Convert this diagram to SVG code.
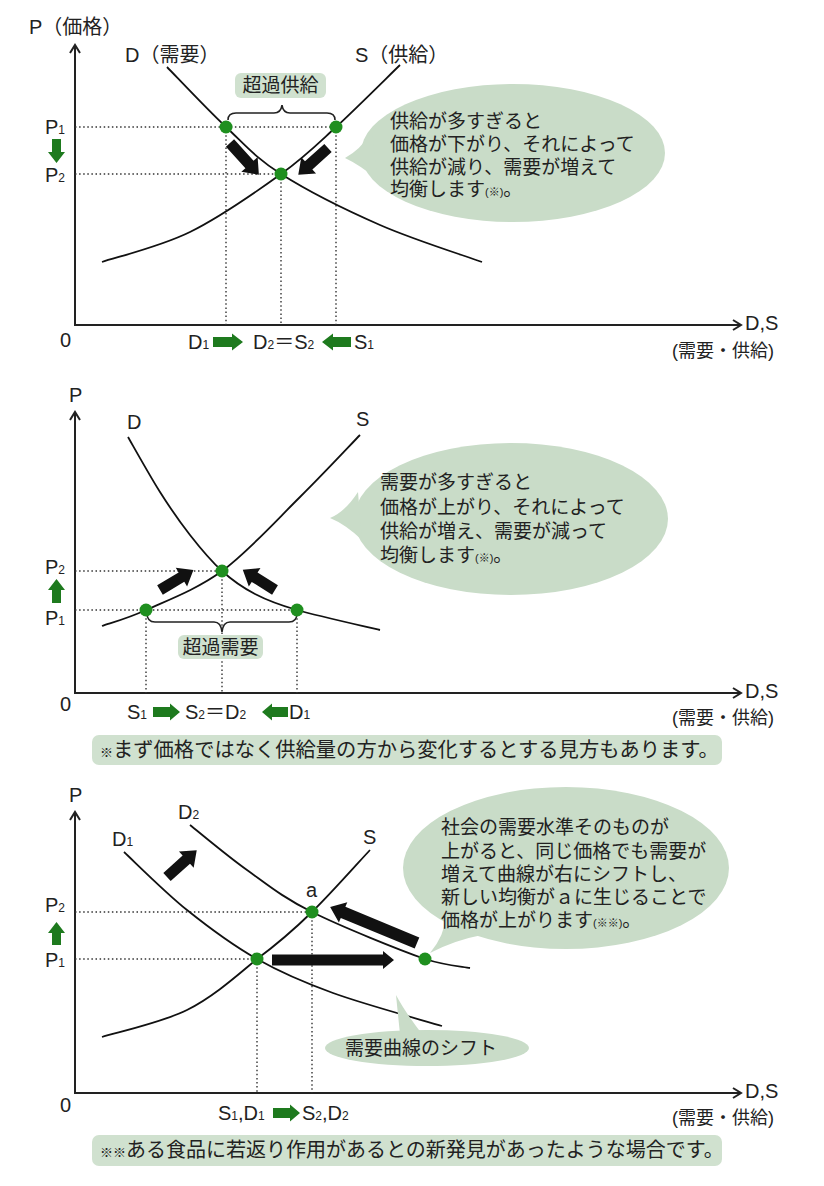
<svg xmlns="http://www.w3.org/2000/svg" width="824" height="1186" viewBox="0 0 824 1186">
<style>
text{font-family:"Liberation Sans","Noto Sans CJK JP",sans-serif;fill:#222;}
.t20{font-size:20px;}
.t19{font-size:19px;}
.t18{font-size:18px;}
.sub{font-size:12px;}
.note{font-size:11px;}
.axis{stroke:#222;stroke-width:2;fill:none;}
.curve{stroke:#111;stroke-width:1.8;fill:none;}
.dot{stroke:#333;stroke-width:1.4;stroke-dasharray:1.5 2.6;fill:none;}
.pt{fill:#1f8f1f;}
.blk{fill:#111;}
.grn{fill:#1e7a1e;}
.bub{fill:#c9dcc8;}
.lbl{fill:#d0e1cf;}
.brace{stroke:#222;stroke-width:1.6;fill:none;}
</style>
<rect width="824" height="1186" fill="#fff"/>

<!-- Panel 1 -->
<g id="panel1-axes">
<path class="axis" d="M75,45 L75,325 L741,325"/>
<path class="axis" d="M70,53 L75,45 L80,53"/>
<path class="axis" d="M733,320 L741,325 L733,330"/>
<text class="t20" x="29" y="34">P（価格）</text>
<text class="t20" x="60" y="347">0</text>
<text class="t20" x="745" y="330">D,S</text>
<text class="t18" x="672" y="357">(需要・供給)</text>
</g>
<g id="panel1-connectors">
<path class="dot" d="M75,127 L336,127 M75,174 L281,174 M226,127 L226,325 M281,174 L281,325 M336,127 L336,325"/>
<path class="curve" d="M167,67 C176.8,77 207,109.2 226,127 C245,144.8 255.3,157.7 281,174 C306.7,190.3 346.5,210.3 380,225 C413.5,239.7 465,255.8 482,262"/>
<path class="curve" d="M102,262 C116.7,257 160.2,246.7 190,232 C219.8,217.3 256.7,191.5 281,174 C305.3,156.5 316.2,145.2 336,127 C355.8,108.8 389.3,75.3 400,65"/>
<path class="brace" d="M228,120 Q228,113 236,113 L274,113 Q281,113 282,105 Q283,113 290,113 L327,113 Q335,113 335,120"/>
<polygon class="blk" transform="translate(230,143) rotate(47.8)" points="0,-5.5 29,-5.5 29,-11 43,0 29,11 29,5.5 0,5.5"/>
<polygon class="blk" transform="translate(328,148) rotate(138)" points="0,-5.5 26,-5.5 26,-11 40,0 26,11 26,5.5 0,5.5"/>
<polygon class="grn" points="52,139 61,139 61,152 65,152 56.5,163 48,152 52,152"/>
<polygon class="grn" points="213,337 232,337 232,333.5 243,342 232,350.5 232,347 213,347"/>
<polygon class="grn" points="351,337 333,337 333,333.5 322,342 333,350.5 333,347 351,347"/>
</g>
<g id="panel1-nodes">
<circle class="pt" cx="226" cy="127" r="6.5"/>
<circle class="pt" cx="336" cy="127" r="6.5"/>
<circle class="pt" cx="281" cy="174" r="6.5"/>
<text class="t20" x="125" y="62">D（需要）</text>
<text class="t20" x="355" y="62">S（供給）</text>
<text class="t20" x="45" y="134">P<tspan class="sub">1</tspan></text>
<text class="t20" x="45" y="182">P<tspan class="sub">2</tspan></text>
<text class="t20" x="188" y="349">D<tspan class="sub">1</tspan></text>
<text class="t20" x="253" y="349">D<tspan class="sub">2</tspan>＝S<tspan class="sub">2</tspan></text>
<text class="t20" x="354" y="349">S<tspan class="sub">1</tspan></text>
</g>
<g id="label-excess-supply">
<rect class="lbl" x="235" y="73" width="91" height="25" rx="6"/>
<text class="t19" x="280.5" y="92" text-anchor="middle">超過供給</text>
</g>
<g id="bubble1">
<ellipse class="bub" cx="513" cy="153" rx="152" ry="69"/>
<path class="bub" d="M345,158 Q360,150 372,132 L378,180 Q360,165 345,158 Z"/>
<text class="t19" x="390" y="128">供給が多すぎると<tspan x="390" dy="23">価格が下がり、それによって</tspan><tspan x="390" dy="22.5">供給が減り、需要が増えて</tspan><tspan x="390" dy="22.5">均衡します</tspan><tspan class="note">(※)</tspan><tspan>。</tspan></text>
</g>

<!-- Panel 2 -->
<g id="panel2-axes">
<path class="axis" d="M75,412 L75,693 L741,693"/>
<path class="axis" d="M70,420 L75,412 L80,420"/>
<path class="axis" d="M733,688 L741,693 L733,698"/>
<text class="t20" x="69" y="402">P</text>
<text class="t20" x="60" y="711">0</text>
<text class="t20" x="745" y="698">D,S</text>
<text class="t18" x="672" y="724">(需要・供給)</text>
</g>
<g id="panel2-connectors">
<path class="dot" d="M75,571 L222,571 M75,610 L297,610 M146,610 L146,693 M222,571 L222,693 M297,610 L297,693"/>
<path class="curve" d="M128,437 C133.3,446.2 149.7,475.7 160,492 C170.3,508.3 179.7,521.8 190,535 C200.3,548.2 211.2,561.2 222,571 C232.8,580.8 242.5,587.5 255,594 C267.5,600.5 276.2,604 297,610 C317.8,616 366.2,626.7 380,630"/>
<path class="curve" d="M102,626 C109.3,623.3 126,619.2 146,610 C166,600.8 196.3,589.8 222,571 C247.7,552.2 277,519.7 300,497 C323,474.3 350,445.3 360,435"/>
<path class="brace" d="M147,613 Q147,622 155,622 L214,622 Q221,622 222,632 Q223,622 230,622 L289,622 Q297,622 297,613"/>
<polygon class="blk" transform="translate(160,590) rotate(-31)" points="0,-5.5 25,-5.5 25,-11 39,0 25,11 25,5.5 0,5.5"/>
<polygon class="blk" transform="translate(275,590) rotate(-148)" points="0,-5.5 24,-5.5 24,-11 38,0 24,11 24,5.5 0,5.5"/>
<polygon class="grn" points="56.5,579 65,590 61,590 61,603 52,603 52,590 48,590"/>
<polygon class="grn" points="153,707 170,707 170,703.5 180,712 170,720.5 170,717 153,717"/>
<polygon class="grn" points="288,707 272,707 272,703.5 262,712 272,720.5 272,717 288,717"/>
</g>
<g id="panel2-nodes">
<circle class="pt" cx="146" cy="610" r="6.5"/>
<circle class="pt" cx="222" cy="571" r="6.5"/>
<circle class="pt" cx="297" cy="610" r="6.5"/>
<text class="t20" x="127" y="429">D</text>
<text class="t20" x="356" y="426">S</text>
<text class="t20" x="45" y="574">P<tspan class="sub">2</tspan></text>
<text class="t20" x="45" y="625">P<tspan class="sub">1</tspan></text>
<text class="t20" x="127" y="719">S<tspan class="sub">1</tspan></text>
<text class="t20" x="185" y="719">S<tspan class="sub">2</tspan>＝D<tspan class="sub">2</tspan></text>
<text class="t20" x="289" y="719">D<tspan class="sub">1</tspan></text>
</g>
<g id="label-excess-demand">
<rect class="lbl" x="178" y="635" width="85" height="24" rx="6"/>
<text class="t19" x="220.5" y="654" text-anchor="middle">超過需要</text>
</g>
<g id="bubble2">
<ellipse class="bub" cx="511" cy="519" rx="157" ry="76"/>
<path class="bub" d="M330,518 Q345,512 358,492 L362,540 Q345,524 330,518 Z"/>
<text class="t19" x="380" y="489">需要が多すぎると<tspan x="380" dy="25">価格が上がり、それによって</tspan><tspan x="380" dy="24">供給が増え、需要が減って</tspan><tspan x="380" dy="24">均衡します</tspan><tspan class="note">(※)</tspan><tspan>。</tspan></text>
</g>
<g id="footnote1">
<rect class="lbl" x="92" y="735" width="630" height="30" rx="7"/>
<text x="100" y="757" font-size="20.3"><tspan font-size="13">※</tspan>まず価格ではなく供給量の方から変化するとする見方もあります。</text>
</g>

<!-- Panel 3 -->
<g id="panel3-axes">
<path class="axis" d="M75,812 L75,1093 L741,1093"/>
<path class="axis" d="M70,820 L75,812 L80,820"/>
<path class="axis" d="M733,1088 L741,1093 L733,1098"/>
<text class="t20" x="69" y="802">P</text>
<text class="t20" x="60" y="1112">0</text>
<text class="t20" x="745" y="1098">D,S</text>
<text class="t18" x="672" y="1124">(需要・供給)</text>
</g>
<g id="panel3-connectors">
<path class="dot" d="M75,912 L312,912 M75,959 L257,959 M257,959 L257,1093 M312,912 L312,1093"/>
<path class="curve" d="M124,852 C134.5,861.7 164.8,892.2 187,910 C209.2,927.8 232.7,945.2 257,959 C281.3,972.8 302.2,981.8 333,993 C363.8,1004.2 423.8,1020.5 442,1026"/>
<path class="curve" d="M190,825 C199.5,832.5 226.7,855.5 247,870 C267.3,884.5 282.3,897.2 312,912 C341.7,926.8 398.7,949.7 425,959 C445,965.5 462.5,966.5 470,968"/>
<path class="curve" d="M102,1037 C116.2,1032.5 161.2,1022.8 187,1010 C212.8,997.2 236.2,976.3 257,959 C277.8,943.7 293.2,930.3 312,912 C330.8,893.7 360.3,860.3 370,850"/>
<polygon class="blk" transform="translate(167,877) rotate(-42)" points="0,-5.5 26,-5.5 26,-11 40,0 26,11 26,5.5 0,5.5"/>
<polygon class="blk" points="272,954.5 383,954.5 383,951 394,960 383,969 383,965.5 272,965.5"/>
<polygon class="blk" transform="translate(417,943) rotate(202.5)" points="0,-6 80,-6 80,-11 94,0 80,11 80,6 0,6"/>
<polygon class="grn" points="56.5,922 65,933 61,933 61,945 52,945 52,933 48,933"/>
<polygon class="grn" points="273,1108 290,1108 290,1104.5 300,1113 290,1121.5 290,1118 273,1118"/>
</g>
<g id="bubble4">
<ellipse class="bub" cx="427" cy="1048" rx="102" ry="18"/>
<path class="bub" d="M396,995 Q398,1015 400,1034 L422,1034 Q405,1012 396,995 Z"/>
<text class="t19" x="345" y="1055">需要曲線のシフト</text>
</g>
<g id="bubble3">
<ellipse class="bub" cx="566" cy="868" rx="163" ry="81"/>
<path class="bub" d="M430,953 Q445,935 446,915 L482,935 Q455,940 430,953 Z"/>
<text class="t19" x="441" y="834">社会の需要水準そのものが<tspan x="441" dy="23.5">上がると、同じ価格でも需要が</tspan><tspan x="441" dy="23">増えて曲線が右にシフトし、</tspan><tspan x="441" dy="23">新しい均衡がａに生じることで</tspan><tspan x="441" dy="23">価格が上がります</tspan><tspan class="note">(※※)</tspan><tspan>。</tspan></text>
</g>
<g id="panel3-nodes">
<circle class="pt" cx="257" cy="959" r="6.5"/>
<circle class="pt" cx="312" cy="912" r="6.5"/>
<circle class="pt" cx="425" cy="959" r="6.5"/>
<text class="t20" x="178" y="819">D<tspan class="sub">2</tspan></text>
<text class="t20" x="112" y="846">D<tspan class="sub">1</tspan></text>
<text class="t20" x="363" y="844">S</text>
<text class="t20" x="306" y="897">a</text>
<text class="t20" x="45" y="912">P<tspan class="sub">2</tspan></text>
<text class="t20" x="45" y="967">P<tspan class="sub">1</tspan></text>
<text class="t20" x="218" y="1120">S<tspan class="sub">1</tspan>,D<tspan class="sub">1</tspan></text>
<text class="t20" x="302" y="1120">S<tspan class="sub">2</tspan>,D<tspan class="sub">2</tspan></text>
</g>
<g id="footnote2">
<rect class="lbl" x="92" y="1135" width="630" height="31" rx="7"/>
<text class="t20" x="100" y="1157"><tspan font-size="13">※※</tspan>ある食品に若返り作用があるとの新発見があったような場合です。</text>
</g>
</svg>
